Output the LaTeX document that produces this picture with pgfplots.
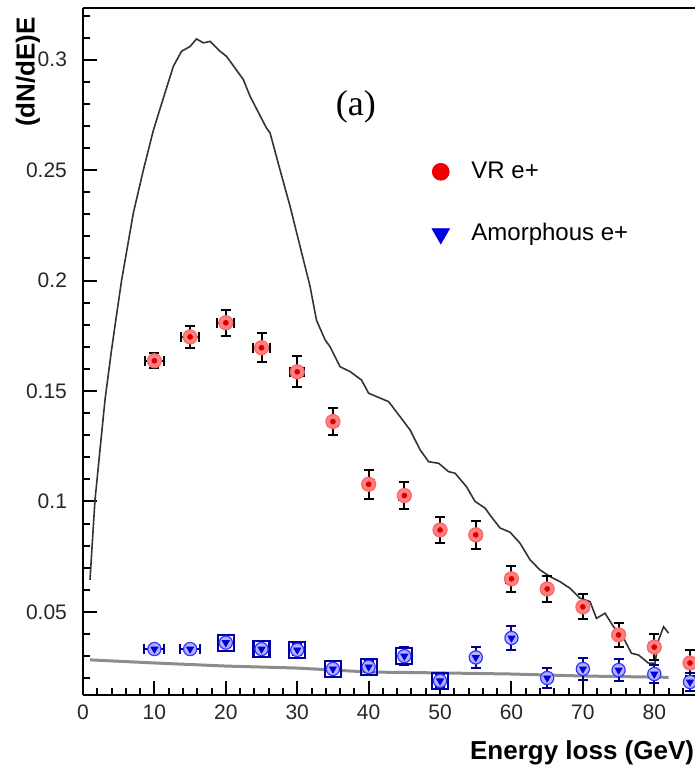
\documentclass[border=0pt]{standalone}
\usepackage{pgfplots}
\pgfplotsset{compat=1.18}
\usepackage{pgfplotstable}
\usepackage{fontspec}
\setmainfont{Liberation Sans}
\newfontfamily\serifa{Liberation Serif}

\pgfplotstableread{
x y ex ey
10 0.1637 1.3 0.0033
15 0.1745 1.3 0.0050
20 0.1809 1.2 0.0060
25 0.1696 1.2 0.0065
30 0.1587 1.0 0.0070
35 0.1362 0.7 0.0060
40 0.1078 0.7 0.0065
45 0.1027 0.7 0.0063
50 0.0871 0.7 0.0060
55 0.0849 0.7 0.0064
60 0.0650 0.7 0.0060
65 0.0604 0.7 0.0060
70 0.0523 0.7 0.0056
75 0.0396 0.7 0.0056
80 0.0341 0.7 0.0060
85 0.0269 0.7 0.0060
}\vrdata

\pgfplotstableread{
x y ex ey
10 0.0332 1.4 0.0020
15 0.0332 1.4 0.0020
20 0.0361 0.5 0.0020
25 0.0332 0.5 0.0020
30 0.0328 0.5 0.0025
35 0.0242 0.5 0.0020
40 0.0251 0.5 0.0025
45 0.0300 0.5 0.0040
50 0.0188 0.5 0.0030
55 0.0294 0.5 0.0048
60 0.0382 0.5 0.0054
65 0.0201 0.5 0.0045
70 0.0242 0.5 0.0048
75 0.0237 0.5 0.0048
80 0.0219 0.5 0.0042
85 0.0183 0.5 0.0040
}\amdata

\pgfplotstableread{
x y
20 0.0361
25 0.0332
30 0.0328
35 0.0242
40 0.0251
45 0.0300
50 0.0188
}\amboxes

\pgfplotstableread{
x y
0.98 0.0645
1.68 0.1007
2.38 0.1234
3.08 0.1460
4.00 0.1687
4.50 0.1800
5.40 0.2000
7.05 0.2306
8.45 0.2500
9.85 0.2680
11.0 0.2800
12.65 0.2970
13.8 0.3038
15.0 0.3060
15.9 0.3094
16.85 0.3076
17.8 0.3083
19.2 0.3038
20.1 0.3015
22.45 0.2910
23.4 0.2834
25.7 0.2690
26.2 0.2668
27.6 0.2500
29.0 0.2336
30.4 0.2154
31.8 0.1973
32.7 0.1820
33.9 0.1732
34.6 0.1700
36.0 0.1610
37.4 0.1588
39.0 0.1550
40.0 0.1490
41.1 0.1475
42.8 0.1452
44.4 0.1384
45.8 0.1324
47.2 0.1234
48.4 0.1180
49.8 0.1173
51.2 0.1135
52.1 0.1128
53.7 0.1067
54.9 0.1000
56.3 0.0970
57.2 0.0930
58.4 0.0880
59.8 0.0861
61.2 0.0811
62.6 0.0736
64.0 0.0690
65.4 0.0660
66.8 0.0637
68.2 0.0607
69.6 0.0562
71.0 0.0547
71.9 0.0471
73.1 0.0494
74.3 0.0433
75.7 0.0381
76.8 0.0313
77.8 0.0305
79.2 0.0268
80.1 0.0268
80.6 0.0373
81.3 0.0433
82.0 0.0404
}\vrcurve

\pgfplotstableread{
x y
1 0.0283
10 0.0269
20 0.0255
30 0.0246
40 0.0228
50 0.0224
60 0.0219
70 0.0210
80 0.0205
82 0.0204
}\amcurve

\begin{document}
\begin{tikzpicture}
\useasboundingbox (-41.5pt,-40.5pt) rectangle (306pt,347.5pt);
\begin{axis}[
  scale only axis, width=306pt, height=343.5pt,
  xmin=0, xmax=85.7, ymin=0.0124, ymax=0.3234,
  clip=false,
  axis x line*=bottom, axis y line*=left,
  axis line style={line width=1.2pt},
  tick align=inside,
  xtick={0,10,20,30,40,50,60,70,80},
  minor xtick={2,4,6,8,12,14,16,18,22,24,26,28,32,34,36,38,42,44,46,48,52,54,56,58,62,64,66,68,72,74,76,78,82,84},
  ytick={0.05,0.1,0.15,0.2,0.25,0.3},
  yticklabels={0.05,0.1,0.15,0.2,0.25,0.3},
  minor ytick={0.02,0.03,0.04,0.06,0.07,0.08,0.09,0.11,0.12,0.13,0.14,0.16,0.17,0.18,0.19,0.21,0.22,0.23,0.24,0.26,0.27,0.28,0.29,0.31,0.32},
  major tick length=7pt, minor tick length=3.5pt,
  every tick/.append style={black, line width=1pt},
  /pgf/number format/assume math mode=true,
  tick label style={font=\fontsize{10.5}{12}\selectfont, text=black!85},
  xticklabel style={yshift=-1.5pt},
  yticklabel style={xshift=-4.5pt},
  legend image code/.code={\draw[mark repeat=2,mark phase=2,#1] plot coordinates {(0cm,0cm) (0.3cm,0cm) (0.6cm,0cm)};},
  legend style={at={(axis description cs:0.560,0.788)}, anchor=north west, draw=none, fill=none,
    row sep=17pt, column sep=9pt, font=\fontsize{12}{14}\selectfont},
  legend cell align=left,
]
\addlegendimage{only marks, mark=*, mark size=4.2pt, draw=red!90!black, fill=red!95!black}
\addlegendentry{VR e+}
\addlegendimage{only marks, mark=triangle*, mark options={rotate=180}, mark size=5pt, draw=blue!90!black, fill=blue!90!black}
\addlegendentry{Amorphous e+}

% curves
\addplot[forget plot, black!45, line width=1.5pt] table[x=x,y=y] {\amcurve};
\addplot[forget plot, black!80, line width=0.8pt] table[x=x,y=y] {\vrcurve};

% amorphous boxes
\addplot[forget plot, only marks, mark=square, mark size=4pt, mark options={draw=blue!65!black, line width=1.1pt}] table[x=x,y=y] {\amboxes};
% amorphous points
\addplot[forget plot, only marks, mark=*, mark size=3.3pt,
  mark options={draw=blue!80, fill=blue!30!white, line width=0.6pt},
  error bars/.cd, x dir=both, x explicit, y dir=both, y explicit,
  error bar style={blue!55!black, line width=1pt},
  error mark options={rotate=90, blue!55!black, mark size=2.5pt, line width=1pt}]
  table[x=x,y=y,x error=ex,y error=ey] {\amdata};
\addplot[forget plot, only marks, mark=triangle*, mark size=2pt,
  mark options={rotate=180, draw=blue!85!black, fill=blue!85!black}]
  table[x=x,y=y] {\amdata};

% VR points
\addplot[forget plot, only marks, mark=*, mark size=3.5pt,
  mark options={draw=red!60!white, fill=red!50!white, line width=0.6pt},
  error bars/.cd, x dir=both, x explicit, y dir=both, y explicit,
  error bar style={black, line width=1pt},
  error mark options={rotate=90, black, mark size=2.5pt, line width=1pt}]
  table[x=x,y=y,x error=ex,y error=ey] {\vrdata};
\addplot[forget plot, only marks, mark=*, mark size=1.2pt,
  mark options={draw=red!85!black, fill=red!85!black}]
  table[x=x,y=y] {\vrdata};

% top frame line
\draw[line width=1.2pt] (rel axis cs:0,1) -- (rel axis cs:1.01,1);

\node[rotate=90, font=\bfseries\fontsize{13}{15}\selectfont] at (rel axis cs:-0.0899,0.9068) {(dN/dE)E};
\node[anchor=east, font=\bfseries\fontsize{13}{15}\selectfont] at (rel axis cs:1.01,-0.0844) {Energy loss (GeV)};
\node[font=\serifa\fontsize{18}{20}\selectfont] at (rel axis cs:0.446,0.856) {(a)};
\end{axis}
\end{tikzpicture}
\end{document}
